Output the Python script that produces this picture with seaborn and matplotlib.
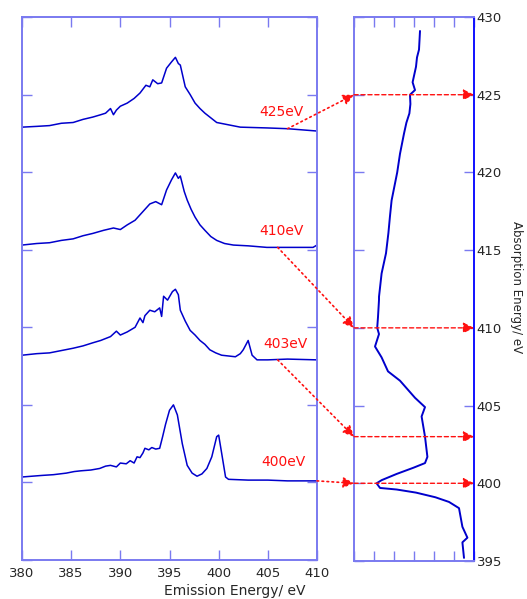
import matplotlib
matplotlib.use("Agg")
import matplotlib.pyplot as plt
from matplotlib.patches import ConnectionPatch
import seaborn as sns
import pandas as pd

sns.set_style("white")
plt.rcParams['font.family'] = ['DejaVu Sans']

# ---- emission spectra (x: emission energy eV, y: intensity, offset) ----
e400 = [380.0, 381.0, 382.0, 383.2, 384.5, 385.3, 386.0, 387.0, 387.9, 388.5, 389.0, 389.6, 390.0, 390.6,
        391.0, 391.4, 391.7, 392.0, 392.3, 392.5, 392.9, 393.2, 393.6, 394.0, 394.3,
        394.6, 395.0, 395.4, 395.8, 396.3, 396.8, 397.3, 397.8, 398.3, 398.8, 399.3, 399.8, 400.0, 400.3,
        400.7, 401.0, 403.0, 405.0, 407.0, 410.0]
i400 = [1.07, 1.08, 1.09, 1.10, 1.12, 1.14, 1.15, 1.16, 1.18, 1.21, 1.22, 1.20, 1.25, 1.24,
        1.28, 1.25, 1.33, 1.32, 1.38, 1.44, 1.42, 1.45, 1.43, 1.44, 1.59,
        1.75, 1.93, 2.00, 1.87, 1.50, 1.22, 1.12, 1.08, 1.11, 1.18, 1.33, 1.59, 1.61, 1.38,
        1.07, 1.04, 1.03, 1.03, 1.02, 1.02]

e403 = [380.0, 381.5, 382.8, 384.0, 385.2, 386.2, 387.2, 388.0, 389.0, 389.6, 390.0, 390.7, 391.5, 392.0,
        392.3, 392.5, 393.0, 393.5, 394.0, 394.2, 394.4, 394.8, 395.3, 395.6, 395.9, 396.1, 396.6, 397.1, 397.6,
        398.1, 398.6, 399.1, 399.7, 400.3, 401.0, 401.7, 402.2, 402.5, 403.0, 403.4, 403.9, 405.0,
        407.0, 410.0]
i403 = [2.64, 2.66, 2.67, 2.70, 2.73, 2.76, 2.80, 2.83, 2.88, 2.95, 2.90, 2.94, 3.00, 3.12,
        3.06, 3.15, 3.22, 3.20, 3.25, 3.14, 3.40, 3.35, 3.46, 3.49, 3.42, 3.22, 3.08, 2.96, 2.90,
        2.83, 2.78, 2.71, 2.67, 2.64, 2.63, 2.62, 2.66, 2.71, 2.83, 2.64, 2.58, 2.58,
        2.59, 2.58]

e410 = [380.0, 381.5, 382.8, 384.0, 385.2, 386.2, 387.2, 388.3, 389.3, 390.0, 390.7, 391.5, 392.0, 392.5,
        393.0, 393.6, 394.2, 394.7, 395.2, 395.6, 395.9, 396.1, 396.5, 396.8, 397.2, 397.6, 398.1,
        398.6, 399.2, 399.8, 400.6, 401.5, 403.0, 404.9, 407.0, 409.6, 410.0]
i410 = [4.06, 4.08, 4.09, 4.12, 4.14, 4.18, 4.21, 4.25, 4.28, 4.26, 4.32, 4.38, 4.45, 4.52,
        4.59, 4.62, 4.58, 4.77, 4.90, 4.99, 4.92, 4.95, 4.75, 4.64, 4.52, 4.42, 4.32,
        4.25, 4.17, 4.12, 4.08, 4.06, 4.05, 4.03, 4.03, 4.03, 4.06]

e425 = [380.0, 381.5, 382.8, 384.0, 385.2, 386.2, 387.2, 388.0, 388.5, 389.0, 389.3, 389.6, 390.0,
        390.7, 391.4, 392.0, 392.6, 393.0, 393.3, 393.8, 394.2, 394.7, 395.2, 395.6, 395.9, 396.1,
        396.6, 397.1, 397.6, 398.1, 398.6, 399.2, 399.8, 401.0, 402.2, 404.9, 407.0, 410.0]
i425 = [5.58, 5.59, 5.60, 5.63, 5.64, 5.68, 5.71, 5.74, 5.76, 5.82, 5.74, 5.80, 5.85,
        5.89, 5.95, 6.02, 6.12, 6.10, 6.19, 6.14, 6.15, 6.34, 6.42, 6.48, 6.40, 6.38,
        6.10, 6.00, 5.89, 5.82, 5.76, 5.70, 5.64, 5.61, 5.58, 5.57, 5.56, 5.53]

spectra_labels = ["400eV", "403eV", "410eV", "425eV"]
label_emission = [406.6, 406.8, 406.4, 406.4]
label_height = [1.26, 2.79, 4.24, 5.77]
arrow_start_emission = [410.0, 406.0, 406.0, 407.0]
arrow_start_height = [1.02, 2.58, 4.03, 5.56]
excitation = [400.0, 403.0, 410.0, 425.0]

# ---- absorption spectrum (x: intensity, y: absorption energy eV) ----
abs_energy = [429.1, 427.9, 427.4, 426.8, 425.8, 425.3, 425.0, 424.4, 423.8, 423.2, 422.5, 421.2, 420.0,
              418.2, 417.2, 416.1, 414.8, 413.5, 412.0, 411.8, 410.7, 410.0, 409.6, 408.8, 408.1, 407.2,
              406.6, 405.5, 404.9, 404.3, 403.0, 401.7, 401.3, 401.0, 400.6, 400.2, 400.0, 399.7, 399.6,
              399.4, 399.1, 398.8, 398.4, 397.2, 396.5, 396.2, 395.2]
abs_signal = [3.30, 3.25, 3.15, 3.10, 2.93, 3.05, 2.80, 2.82, 2.77, 2.62, 2.50, 2.30, 2.16,
              1.88, 1.80, 1.72, 1.60, 1.38, 1.25, 1.25, 1.20, 1.16, 1.25, 1.05, 1.38, 1.70,
              2.30, 3.05, 3.55, 3.38, 3.55, 3.67, 3.55, 2.97, 2.13, 1.38, 1.13, 1.30, 2.13,
              3.10, 4.07, 4.75, 5.25, 5.42, 5.67, 5.42, 5.50]

emission_ticks = [380, 385, 390, 395, 400, 405, 410]
absorption_ticks = [395, 400, 405, 410, 415, 420, 425, 430]

line_col = "#0000cc"
spine_col = "#7a7af0"
red = "#ff1010"

fig = plt.figure(figsize=(5.27, 5.99), dpi=100)
axL = fig.add_axes([22/527, 1-560/599, 295/527, 543/599])
axR = fig.add_axes([354/527, 1-561/599, 120/527, 544/599])

for e, i in [(e400, i400), (e403, i403), (e410, i410), (e425, i425)]:
    df = pd.DataFrame({"E": e, "I": i})
    sns.lineplot(data=df, x="E", y="I", ax=axL, color=line_col, lw=1.1, estimator=None)

axL.set_xlim(380, 410)
axL.set_ylim(0, 7)
axL.set_xticks(emission_ticks)
axL.set_xticklabels([str(t) for t in emission_ticks], fontsize=9.5)
axL.set_yticks(range(0, 8))
axL.set_yticklabels([])
axL.tick_params(direction="in", length=7, width=1, color=spine_col, top=True, right=True,
                left=True, bottom=True, pad=5)
axL.set_xlabel("Emission Energy/ eV", fontsize=10)
axL.xaxis.set_label_coords(0.72, -0.045)
axL.set_ylabel("")
for s in axL.spines.values():
    s.set_color(spine_col)
    s.set_linewidth(1.4)

for lab, x, y in zip(spectra_labels, label_emission, label_height):
    axL.text(x, y, lab, color=red, fontsize=10, ha="center", va="center")

dfA = pd.DataFrame({"S": abs_signal, "E": abs_energy})
sns.lineplot(data=dfA, x="S", y="E", ax=axR, color=line_col, lw=1.4, sort=False, estimator=None)
axR.set_xlim(0, 6)
axR.set_ylim(395, 430)
axR.set_xticks(range(0, 7))
axR.set_xticklabels([])
axR.set_yticks(absorption_ticks)
axR.set_yticklabels([str(t) for t in absorption_ticks], fontsize=9.5)
axR.yaxis.tick_right()
axR.tick_params(direction="in", length=7, width=1, color=spine_col, top=True, bottom=True,
                left=True, right=True, labelleft=False, labelright=True, pad=2)
axR.set_xlabel("")
axR.set_ylabel("")
for k, s in axR.spines.items():
    s.set_color(spine_col)
    s.set_linewidth(1.4)
axR.spines["right"].set_color("#1010ff")

fig.text(517/527, 1-287/599, "Absorption Energy/ eV", fontsize=8.5, rotation=270,
         ha="center", va="center")

for xs, ys, ex in zip(arrow_start_emission, arrow_start_height, excitation):
    cp = ConnectionPatch(xyA=(xs, ys), coordsA=axL.transData,
                         xyB=(0, ex), coordsB=axR.transData,
                         arrowstyle="-|>", mutation_scale=16, color=red, lw=1.2,
                         linestyle=(0, (1, 2)), shrinkA=0, shrinkB=0, zorder=5)
    fig.add_artist(cp)
    axR.annotate("", xy=(6, ex), xytext=(0, ex),
                 arrowprops=dict(arrowstyle="-|>", mutation_scale=16, color=red, lw=1.0,
                                 linestyle=(0, (3, 2)), shrinkA=0, shrinkB=0),
                 annotation_clip=False)

fig.savefig("out.png", dpi=100)
